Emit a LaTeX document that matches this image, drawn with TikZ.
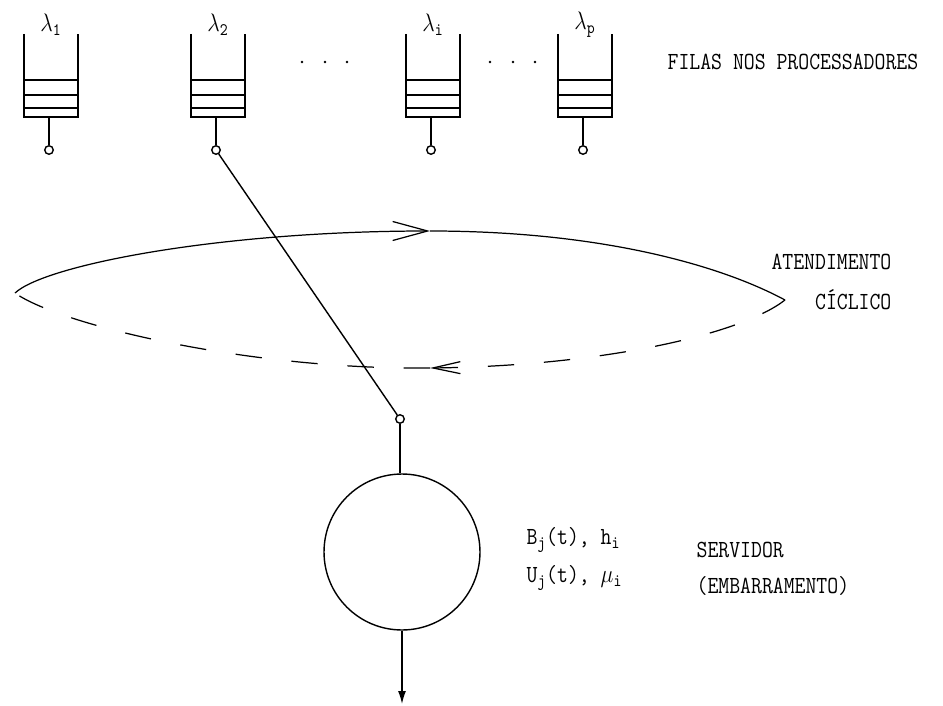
\documentclass[tikz,border=0pt]{standalone}
\usetikzlibrary{arrows.meta}
\begin{document}
\begin{tikzpicture}[x=0.02cm,y=-0.02cm,line width=0.8pt,
  txt/.style={font=\fontsize{14}{16}\selectfont\ttfamily,xscale=0.86,transform shape},
  tap/.style={draw,circle,inner sep=0pt,minimum size=0.17cm},
  cyc/.style={line width=0.7pt},
  gap/.style={dash pattern=on 15pt off 17pt}]
\useasboundingbox (0,0) rectangle (943,706);
\foreach \x/\n in {51/1,218/2,433/i,585/p}{
  \draw (\x-27,34) -- (\x-27,117) -- (\x+27,117) -- (\x+27,34);
  \draw (\x-27,80) -- (\x+27,80) (\x-27,95) -- (\x+27,95) (\x-27,108) -- (\x+27,108);
  \node[txt] (l\n) at (\x,25) {$\lambda_{\mathtt{\n}}$};
  \coordinate (b\n) at (\x-2,117);
  \node[tap] (c\n) at (\x-2,150) {};
  \draw (b\n) -- (c\n);
}
\foreach \x in {302,325,347,490,513,535} \fill (\x,62) circle (1.4);
\node[txt,anchor=west] (filas) at (662,62) {FILAS NOS PROCESSADORES};
\coordinate (L) at (15,293);
\coordinate (T) at (430,231);
\coordinate (R) at (785,300);
\coordinate (B) at (430,368);
\draw[cyc,-{Straight Barb[length=7mm,width=3.8mm]}] (L) .. controls (45,265) and (220,231) .. (T);
\draw[cyc] (T) .. controls (600,231) and (720,265) .. (R);
\draw[cyc,gap,-{Straight Barb[length=5.5mm,width=2.4mm]}] (R) .. controls (740,335) and (600,366) .. (B);
\draw[cyc,gap] (B) .. controls (250,370) and (60,325) .. (L);
\node[txt,anchor=east] (aten) at (897,262) {ATENDIMENTO};
\node[txt,anchor=east] (cicl) at (897,300) {CÍCLICO};
\node[tap] (cin) at (400,419) {};
\draw (c2) -- (cin);
\node[draw,circle,minimum size=3.12cm,inner sep=0pt] (srv) at (402,552) {};
\draw (cin) -- (cin |- srv.north);
\coordinate (out) at (402,704);
\draw[-{Latex[length=2.6mm,width=1.6mm]}] (srv) -- (out);
\node[txt,anchor=west] (bj) at (521,540) {B$_{\mathtt{j}}$(t), h$_{\mathtt{i}}$};
\node[txt,anchor=west] (uj) at (521,578) {U$_{\mathtt{j}}$(t), $\mu_{\mathtt{i}}$};
\node[txt,anchor=west] (serv) at (691,550) {SERVIDOR};
\node[txt,anchor=west] (emb) at (691,586) {(EMBARRAMENTO)};
\end{tikzpicture}
\end{document}
